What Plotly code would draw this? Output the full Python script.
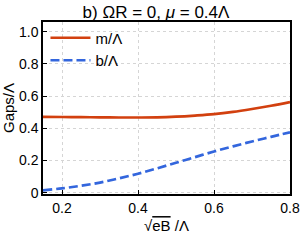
import plotly.graph_objects as go

x_vals = [0.15, 0.2, 0.25, 0.3, 0.35, 0.4, 0.45, 0.5, 0.55, 0.6, 0.65, 0.7, 0.75, 0.8]
m_vals = [0.471, 0.470, 0.469, 0.468, 0.467, 0.467, 0.468, 0.472, 0.479, 0.488, 0.502, 0.520, 0.540, 0.563]
b_vals = [0.015, 0.027, 0.043, 0.063, 0.089, 0.118, 0.151, 0.186, 0.221, 0.256, 0.288, 0.318, 0.347, 0.375]

x_ticks = [0.2, 0.4, 0.6, 0.8]
x_ticktext = ["0.2", "0.4", "0.6", "0.8"]
y_ticks = [0, 0.2, 0.4, 0.6, 0.8, 1.0]
y_ticktext = ["0", "0.2", "0.4", "0.6", "0.8", "1.0"]

FONT = "Liberation Sans, Arial, sans-serif"

fig = go.Figure()
fig.add_trace(go.Scatter(x=x_vals, y=m_vals, mode="lines", name="m/Λ",
                         line=dict(color="#D2400F", width=2.7, shape="spline")))
fig.add_trace(go.Scatter(x=x_vals, y=b_vals, mode="lines", name="b/Λ",
                         line=dict(color="#3366DD", width=2.7, dash="9px,4px", shape="spline")))

fig.update_layout(
    width=300, height=245,
    margin=dict(l=43, r=10, t=22, b=51),
    paper_bgcolor="white", plot_bgcolor="white",
    font=dict(family=FONT, size=14, color="black"),
    title=dict(text="b) ΩR = 0, <i>μ</i> = 0.4Λ", x=0.52, xanchor="center",
               y=0.952, yanchor="middle", font=dict(size=17)),
    showlegend=True,
    legend=dict(x=0.01, y=1.003, xanchor="left", yanchor="top",
                bgcolor="rgba(0,0,0,0)", font=dict(size=15), tracegroupgap=0,
                itemwidth=40),
)
fig.update_xaxes(range=[0.15, 0.8], tickvals=x_ticks, ticktext=x_ticktext,
                 automargin=False,
                 showline=True, mirror=True, linecolor="black", linewidth=1.5,
                 ticks="inside", ticklen=4, tickcolor="black",
                 showgrid=True, gridcolor="#d5d5d5", griddash="dot", gridwidth=1,
                 zeroline=False, tickfont=dict(size=14),
                 title=dict(text="√<span style='text-decoration:overline'>eB</span> /Λ",
                            font=dict(size=15), standoff=6))
fig.update_yaxes(range=[-0.008, 1.06], tickvals=y_ticks, ticktext=y_ticktext,
                 automargin=False,
                 showline=True, mirror=True, linecolor="black", linewidth=1.5,
                 ticks="inside", ticklen=4, tickcolor="black",
                 showgrid=True, gridcolor="#d5d5d5", griddash="dot", gridwidth=1,
                 zeroline=False, tickfont=dict(size=14),
                 title=dict(text="Gaps/Λ", font=dict(size=15), standoff=2))

fig.write_html("out.html", config={"displayModeBar": False},
               post_script="document.body.style.margin='0';document.body.style.overflow='hidden';")
